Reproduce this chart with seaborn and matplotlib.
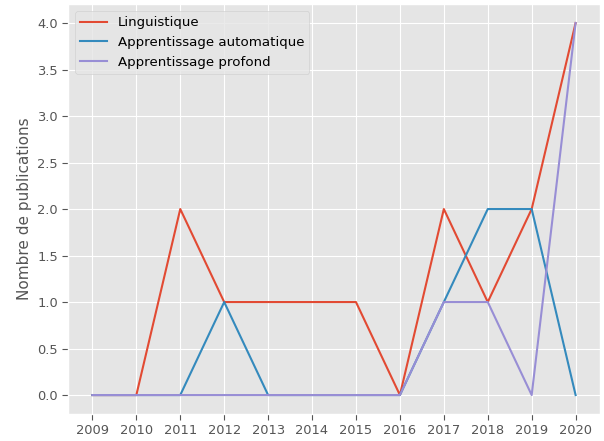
import pandas as pd
import matplotlib
matplotlib.use("Agg")
import matplotlib.pyplot as plt
import seaborn as sns

plt.style.use("ggplot")

years = [str(y) for y in range(2009, 2021)]
linguistique = [0, 0, 2, 1, 1, 1, 1, 0, 2, 1, 2, 4]
apprentissage_auto = [0, 0, 0, 1, 0, 0, 0, 0, 1, 2, 2, 0]
apprentissage_profond = [0, 0, 0, 0, 0, 0, 0, 0, 1, 1, 0, 4]

df = pd.DataFrame({
    "Année": years * 3,
    "Nombre": linguistique + apprentissage_auto + apprentissage_profond,
    "Domaine": (["Linguistique"] * 12 + ["Apprentissage automatique"] * 12
                + ["Apprentissage profond"] * 12),
})

fig, ax = plt.subplots(figsize=(6.04, 4.41), dpi=100)
sns.lineplot(data=df, x="Année", y="Nombre", hue="Domaine",
             palette=["#E24A33", "#348ABD", "#988ED5"], ax=ax)

ax.set_xlabel("")
ax.set_ylabel("Nombre de publications", fontsize=11)
ax.tick_params(axis="both", labelsize=9.4, color="#555555", length=4)
ax.legend(loc="upper left", title=None, fontsize=9.6)
plt.subplots_adjust(left=0.113, right=0.993, top=0.99, bottom=0.062)
plt.savefig("out.png", dpi=100)
